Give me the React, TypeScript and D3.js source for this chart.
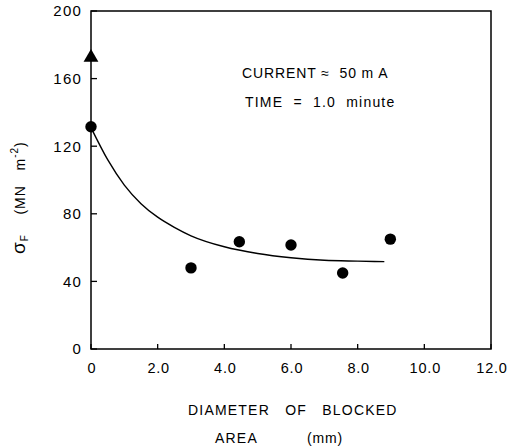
import React from "react";
import * as d3 from "d3";

const xTicks = [0, 2, 4, 6, 8, 10, 12];
const xTickLabels = ["0", "2.0", "4.0", "6.0", "8.0", "10.0", "12.0"];
const yTicks = [0, 40, 80, 120, 160, 200];
const yTickLabels = ["0", "40", "80", "120", "160", "200"];

const pointX = [0, 3.0, 4.45, 6.0, 7.55, 8.98];
const pointY = [131.5, 48, 63.5, 61.5, 45, 65];

const triangleX = [0];
const triangleY = [172.5];

const curveX = [0, 0.5, 1, 1.5, 2, 2.5, 3, 4, 5, 6, 7, 8, 8.8];
const curveY = [131, 112, 97, 86, 78, 72, 67, 60.5, 56.5, 54, 52.5, 52, 51.7];

const annotations = ["CURRENT ≈  50 m A", "TIME  =  1.0  minute"];
const xTitle = ["DIAMETER   OF   BLOCKED", "AREA", "(mm)"];

const W = 510;
const H = 448;
const left = 91;
const right = 491;
const top = 11;
const bottom = 349;

export default function App() {
  const x = d3.scaleLinear().domain([0, 12]).range([left, right]);
  const y = d3.scaleLinear().domain([0, 200]).range([bottom, top]);
  const line = d3
    .line<number>()
    .x((_, i) => x(curveX[i]))
    .y((d) => y(d))
    .curve(d3.curveMonotoneX);
  const font = "'Liberation Sans', Arial, sans-serif";
  const tri = d3.symbol().type(d3.symbolTriangle).size(95)();
  const pre = { whiteSpace: "pre" as const };
  return (
    <svg
      width={W}
      height={H}
      style={{ position: "absolute", left: 0, top: 0, background: "#fff" }}
      fontFamily={font}
      fill="#000"
    >
      <rect x={left} y={top} width={right - left} height={bottom - top} fill="none" stroke="#000" strokeWidth={1.5} />
      {yTicks.map((t, i) => (
        <g key={"y" + i}>
          <line x1={left} x2={left + 6} y1={y(t)} y2={y(t)} stroke="#000" strokeWidth={1.3} />
          <text x={82} y={y(t)} dy="0.36em" textAnchor="end" fontSize={15} letterSpacing={1.2}>
            {yTickLabels[i]}
          </text>
        </g>
      ))}
      {xTicks.map((t, i) => (
        <g key={"x" + i}>
          <line x1={x(t)} x2={x(t)} y1={bottom} y2={bottom - 5} stroke="#000" strokeWidth={1.3} />
          <text x={x(t) + 1} y={368} dy="0.36em" textAnchor="middle" fontSize={14.5} letterSpacing={0.8}>
            {xTickLabels[i]}
          </text>
        </g>
      ))}
      <path d={line(curveY) || ""} fill="none" stroke="#000" strokeWidth={1.4} />
      {pointX.map((px, i) => (
        <circle key={"p" + i} cx={x(px)} cy={y(pointY[i])} r={5.7} fill="#000" />
      ))}
      {triangleX.map((tx, i) => (
        <path key={"t" + i} d={tri || ""} transform={`translate(${x(tx)},${y(triangleY[i])})`} fill="#000" />
      ))}
      <text x={242} y={73} dy="0.36em" fontSize={14} letterSpacing={0.9} style={pre}>
        {annotations[0]}
      </text>
      <text x={245} y={102} dy="0.36em" fontSize={14} letterSpacing={1.2} style={pre}>
        {annotations[1]}
      </text>
      <text x={188} y={410} dy="0.36em" fontSize={14} letterSpacing={1.2} style={pre}>
        {xTitle[0]}
      </text>
      <text x={215} y={438} dy="0.36em" fontSize={14} letterSpacing={1.2} style={pre}>
        {xTitle[1]}
      </text>
      <text x={307} y={438} dy="0.36em" fontSize={14} letterSpacing={0.8} style={pre}>
        {xTitle[2]}
      </text>
      <text transform="translate(25,254) rotate(-90)" textAnchor="start" fontSize={14} letterSpacing={1} style={pre}>
        <tspan fontSize={19}>σ</tspan>
        <tspan fontSize={10} dy={3}>F</tspan>
        <tspan dy={-3}>{"    (MN   m"}</tspan>
        <tspan fontSize={10} dy={-7}>-2</tspan>
        <tspan dy={7}>{")"}</tspan>
      </text>
    </svg>
  );
}
